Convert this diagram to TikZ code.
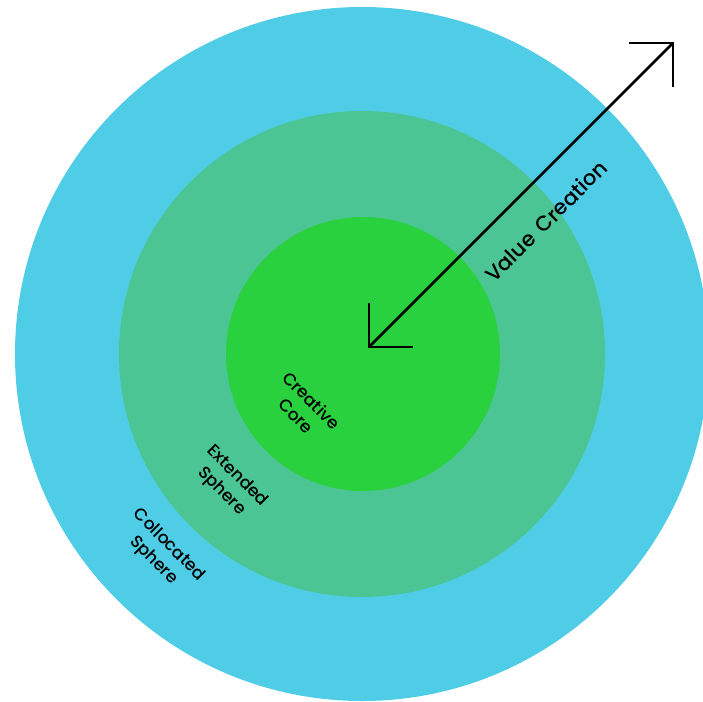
\documentclass[tikz,border=0pt]{standalone}
\usepackage{fontspec}
\setmainfont{Poppins}[UprightFont=* Medium,WordSpace=1.6]
\definecolor{outerc}{RGB}{80,205,230}
\definecolor{midc}{RGB}{76,197,148}
\definecolor{innerc}{RGB}{42,209,62}
\begin{document}
\begin{tikzpicture}[x=1pt,y=-1pt,
  ring/.style={circle,inner sep=0pt,minimum size=#1},
  lbl/.style={rotate=-45,align=center,font=\fontsize{17}{22}\selectfont,inner sep=0pt},
  arr/.style={line width=2.6pt,line join=miter,line cap=butt}]
\useasboundingbox (0,0) rectangle (703,701);
\clip (0,0) rectangle (703,701);
\node[ring=694pt,fill=outerc] (outer) at (362,354) {};
\node[ring=486pt,fill=midc] (mid) at (362,354) {};
\node[ring=274pt,fill=innerc] (inner) at (363,354) {};
\coordinate (tipout) at (673,43);
\coordinate (tipin) at (369,347);
\draw[arr] (tipout) -- (tipin);
\draw[arr] ([xshift=-44pt]tipout) -- (tipout) -- ([yshift=-44pt]tipout);
\draw[arr] ([yshift=44pt]tipin) -- (tipin) -- ([xshift=44pt]tipin);
\node[rotate=45,inner sep=0pt,font=\fontsize{21}{24}\selectfont] (vc) at (546,221) {Value Creation};
\node[lbl] (cc) at (304,408) {Creative\\Core};
\node[lbl] (es) at (229,484) {Extended\\Sphere};
\node[lbl] (cs) at (161,553) {Collocated\\Sphere};
\end{tikzpicture}
\end{document}
